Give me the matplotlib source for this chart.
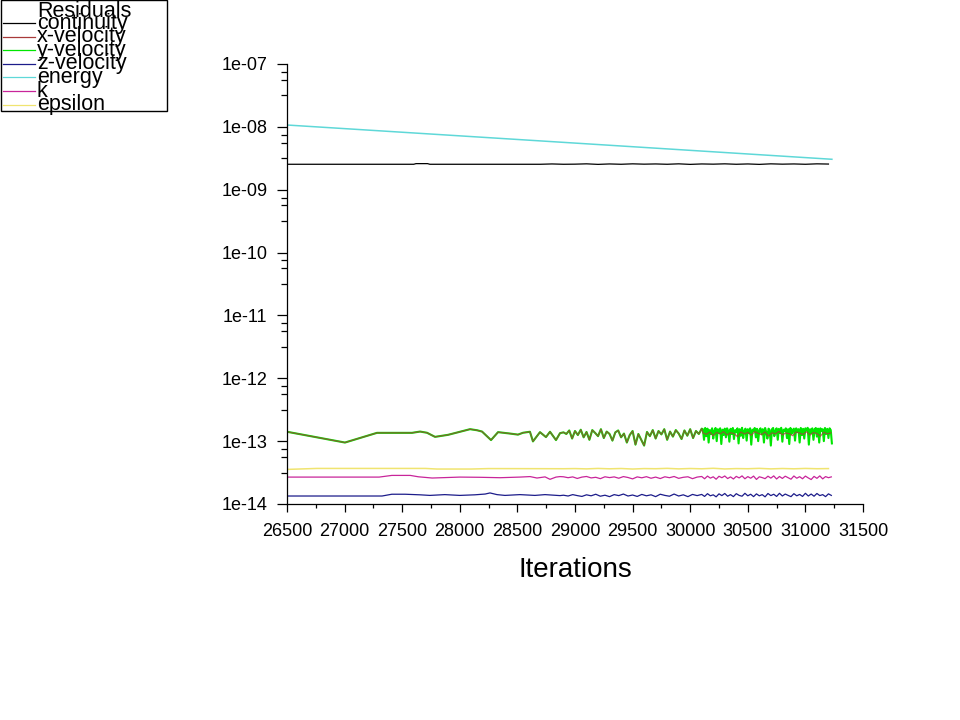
import numpy as np
import matplotlib
matplotlib.use('Agg')
import matplotlib.pyplot as plt
from matplotlib.lines import Line2D
from matplotlib.patches import Rectangle
from matplotlib.ticker import FixedLocator, FuncFormatter, MultipleLocator

plt.rcParams['font.family'] = ['Liberation Sans', 'DejaVu Sans']

# ---- data ----
# x-/y-velocity, smooth early part (units of 1e-13)
vel_A_iter = [26500, 27003, 27281, 27585, 27655, 27715, 27785, 27898, 28089, 28150,
              28193, 28271, 28332, 28436, 28505, 28549, 28609, 28635, 28696, 28748,
              28783, 28835, 28870, 28900]
vel_A = [1.41, 0.95, 1.355, 1.355, 1.42, 1.36, 1.17, 1.26, 1.55, 1.49,
         1.42, 1.04, 1.39, 1.32, 1.27, 1.36, 1.41, 0.99, 1.39, 1.16,
         1.41, 1.04, 1.34, 1.38]
# oscillating part, every 25 iterations from 28925
vel_B = [1.30, 1.48, 1.10, 1.45, 1.25, 1.52, 1.15, 1.40, 1.05, 1.50,
         1.35, 1.20, 1.55, 1.12, 1.42, 1.30, 1.02, 1.38, 1.48, 1.15,
         1.32, 0.95, 1.25, 1.45, 0.88, 1.30, 1.05, 0.85, 1.40, 1.20,
         1.50, 1.10, 1.45, 1.28, 1.55, 1.05, 1.42, 1.18, 1.50, 1.32,
         1.08, 1.48, 1.22, 1.55, 1.12, 1.45, 1.30, 1.58]
# y-velocity noisy part, every 10 iterations from 30110
yvel_C = [1.55, 1.05, 1.62, 1.20, 1.58, 0.95, 1.50, 1.30, 1.60, 1.10,
          1.48, 1.62, 1.00, 1.55, 1.35, 1.60, 0.90, 1.52, 1.25, 1.58,
          1.15, 1.60, 1.45, 0.98, 1.57, 1.30, 1.62, 1.08, 1.50, 1.40,
          1.60, 0.92, 1.55, 1.22, 1.63, 1.12, 1.48, 1.58, 1.02, 1.55,
          1.35, 1.60, 0.88, 1.52, 1.45, 1.62, 1.15, 1.57, 1.00, 1.50,
          1.60, 1.28, 1.55, 0.95, 1.62, 1.40, 1.10, 1.58, 1.50, 0.85,
          1.55, 1.62, 1.20, 1.48, 1.60, 1.05, 1.57, 1.35, 1.63, 0.98,
          1.52, 1.45, 1.60, 1.12, 1.55, 0.90, 1.62, 1.30, 1.50, 1.58,
          1.02, 1.60, 1.40, 1.55, 0.95, 1.62, 1.25, 1.57, 1.10, 1.60,
          1.48, 1.63, 0.88, 1.55, 1.35, 1.60, 1.05, 1.52, 1.62, 1.18,
          1.58, 0.95, 1.60, 1.45, 1.55, 1.00, 1.62, 1.30, 1.57, 1.12,
          1.60, 1.50, 0.92]
# x-velocity noisy part, every 30 iterations from 30110
xvel_C = [1.35, 1.28, 1.40, 1.22, 1.38, 1.30, 1.42, 1.25, 1.36, 1.32,
          1.18, 1.40, 1.30, 1.38, 1.24, 1.42, 1.33, 1.27, 1.40, 1.20,
          1.36, 1.30, 1.43, 1.26, 1.35, 1.31, 1.22, 1.40, 1.34, 1.28,
          1.41, 1.25, 1.37, 1.32, 1.20, 1.39, 1.30, 1.36]

# z-velocity (units of 1e-14)
z_A_iter = [26500, 27325, 27410, 27525, 27655, 27740, 27870, 28000, 28130, 28220,
            28262, 28323, 28392, 28522, 28652, 28740, 28870]
z_A = [1.34, 1.34, 1.43, 1.43, 1.40, 1.37, 1.41, 1.37, 1.40, 1.44,
       1.50, 1.41, 1.37, 1.41, 1.37, 1.41, 1.36]
z_B = [1.38, 1.34, 1.41, 1.36, 1.32, 1.40, 1.35, 1.43, 1.33, 1.38,
       1.31, 1.41, 1.36, 1.44, 1.34, 1.39, 1.32, 1.42, 1.35, 1.40,
       1.31, 1.43, 1.37, 1.33, 1.44, 1.34, 1.40, 1.31, 1.42, 1.36]
z_C = [1.42, 1.32, 1.46, 1.35, 1.40, 1.30, 1.45, 1.36, 1.47, 1.33,
       1.41, 1.31, 1.46, 1.37, 1.33, 1.48, 1.35, 1.43, 1.31, 1.45,
       1.35, 1.41, 1.30, 1.47, 1.36, 1.43, 1.32, 1.48, 1.34, 1.44,
       1.37, 1.31, 1.46, 1.35, 1.42, 1.32, 1.48, 1.34, 1.44, 1.33,
       1.47, 1.36, 1.41, 1.31, 1.45, 1.37]

# k (units of 1e-14)
k_A_iter = [26500, 27300, 27410, 27570, 27640, 27760, 27870, 28000, 28175, 28350,
            28520, 28610, 28670, 28740, 28783, 28835, 28870]
k_A = [2.68, 2.68, 2.85, 2.85, 2.71, 2.59, 2.63, 2.68, 2.66, 2.62,
       2.68, 2.73, 2.59, 2.70, 2.47, 2.68, 2.73]
k_B = [2.71, 2.62, 2.70, 2.55, 2.68, 2.74, 2.60, 2.66, 2.53, 2.71,
       2.63, 2.70, 2.57, 2.73, 2.64, 2.51, 2.70, 2.61, 2.72, 2.57,
       2.68, 2.54, 2.71, 2.62, 2.74, 2.56, 2.66, 2.71, 2.53, 2.68]
k_C = [2.74, 2.52, 2.78, 2.58, 2.71, 2.48, 2.76, 2.62, 2.79, 2.54,
       2.70, 2.50, 2.75, 2.60, 2.80, 2.52, 2.73, 2.57, 2.78, 2.46,
       2.71, 2.63, 2.53, 2.77, 2.58, 2.80, 2.50, 2.74, 2.55, 2.77,
       2.62, 2.48, 2.79, 2.57, 2.72, 2.52, 2.78, 2.60, 2.45, 2.75,
       2.56, 2.80, 2.51, 2.73, 2.62, 2.70]

# epsilon (units of 1e-14)
eps_A_iter = [26500, 26760, 27700, 27800, 28100, 28250, 28600, 28900]
eps_A = [3.55, 3.68, 3.68, 3.60, 3.60, 3.66, 3.65, 3.64]
eps_B = [3.66, 3.62, 3.68, 3.63, 3.67, 3.60, 3.66, 3.64, 3.69, 3.62,
         3.67, 3.63, 3.70, 3.61, 3.66, 3.64, 3.69, 3.62, 3.67, 3.63,
         3.68, 3.64, 3.66]

# continuity (units of 1e-9)
cont_A_iter = [26500, 27600, 27620, 27720, 27740, 28600]
cont_A = [2.54, 2.54, 2.60, 2.60, 2.54, 2.54]
cont_B = [2.54, 2.57, 2.54, 2.55, 2.58, 2.53, 2.57, 2.54, 2.58, 2.55,
          2.57, 2.54, 2.58, 2.53, 2.57, 2.55, 2.58, 2.54, 2.57, 2.53,
          2.58, 2.55, 2.57, 2.54, 2.58, 2.56]

# energy (units of 1e-9)
energy_iter = [26500, 28865, 31230]
energy = [10.7, 5.72, 3.05]


def grid(start, step, vals):
    return start + step * np.arange(len(vals))


it_y = np.concatenate([vel_A_iter, grid(28925, 25, vel_B), grid(30110, 10, yvel_C)])
val_y = np.concatenate([vel_A, vel_B, yvel_C]) * 1e-13
it_x = np.concatenate([vel_A_iter, grid(28925, 25, vel_B), grid(30110, 30, xvel_C)])
val_x = np.concatenate([vel_A, vel_B, xvel_C]) * 1e-13
it_z = np.concatenate([z_A_iter, grid(28900, 40, z_B), grid(30100, 25, z_C)])
val_z = np.concatenate([z_A, z_B, z_C]) * 1e-14
it_k = np.concatenate([k_A_iter, grid(28900, 40, k_B), grid(30100, 25, k_C)])
val_k = np.concatenate([k_A, k_B, k_C]) * 1e-14
it_e = np.concatenate([eps_A_iter, grid(29000, 100, eps_B)])
val_e = np.concatenate([eps_A, eps_B]) * 1e-14
it_c = np.concatenate([cont_A_iter, grid(28700, 100, cont_B)])
val_c = np.concatenate([cont_A, cont_B]) * 1e-9
it_en = np.array(energy_iter)
val_en = np.array(energy) * 1e-9

colors = {
    'continuity': '#000000',
    'x-velocity': '#a83a3a',
    'y-velocity': '#00e600',
    'z-velocity': '#1c1c8a',
    'energy': '#5fd8d8',
    'k': '#c8259a',
    'epsilon': '#f0e470',
}

W, H = 960, 720
fig = plt.figure(figsize=(W / 100, H / 100), dpi=100)
fig.patch.set_facecolor('white')
ax = fig.add_axes([287 / W, 216 / H, 576 / W, 440 / H])

lw = 0.9
ax.plot(it_c, val_c, color=colors['continuity'], lw=lw)
ax.plot(it_y, val_y, color=colors['y-velocity'], lw=1.5)
ax.plot(it_x, val_x, color=colors['x-velocity'], lw=lw, alpha=0.75)
ax.plot(it_z, val_z, color=colors['z-velocity'], lw=lw)
ax.plot(it_en, val_en, color=colors['energy'], lw=1.1)
ax.plot(it_k, val_k, color=colors['k'], lw=lw)
ax.plot(it_e, val_e, color=colors['epsilon'], lw=1.1)

ax.set_yscale('log')
ax.set_xlim(26500, 31500)
ax.set_ylim(1e-14, 1e-7)
for side in ('top', 'right'):
    ax.spines[side].set_visible(False)
for side in ('left', 'bottom'):
    ax.spines[side].set_linewidth(0.9)

exps = list(range(-14, -6))
ax.yaxis.set_major_locator(FixedLocator([10.0 ** e for e in exps]))
ax.yaxis.set_major_formatter(FuncFormatter(lambda v, p: '1e-%02d' % round(-np.log10(v))))
minor = [10.0 ** (e + f) for e in exps[:-1] for f in (0.5, 0.75, 0.875)]
ax.yaxis.set_minor_locator(FixedLocator(minor))
ax.yaxis.set_minor_formatter(FuncFormatter(lambda v, p: ''))
ax.xaxis.set_major_locator(MultipleLocator(500))
ax.xaxis.set_minor_locator(MultipleLocator(250))

ax.tick_params(axis='y', which='major', length=7, width=0.9, pad=7, labelsize=13)
ax.tick_params(axis='y', which='minor', length=4, width=0.9)
ax.tick_params(axis='x', which='major', length=6, width=0.9, pad=8, labelsize=13)
ax.tick_params(axis='x', which='minor', length=3, width=0.9)

ax.set_xlabel('Iterations', fontsize=20)
ax.xaxis.label.set_va('baseline')
ax.xaxis.set_label_coords(0.5, (504 - 577) / 440)

# legend box in the top-left corner, drawn by hand (entries overlap like the original)
fig.add_artist(Rectangle((0.5 / W, 1 - 110.5 / H), 166 / W, 110 / H,
                         transform=fig.transFigure, fill=False, ec='black', lw=1))
fig.text(37 / W, 1 - 16.7 / H, 'Residuals', fontsize=15.5, va='baseline')
names = ['continuity', 'x-velocity', 'y-velocity', 'z-velocity', 'energy', 'k', 'epsilon']
for i, name in enumerate(names):
    ly = 23 + 13.6 * i
    fig.add_artist(Line2D([3 / W, 35 / W], [1 - ly / H, 1 - ly / H],
                          transform=fig.transFigure, color=colors[name], lw=0.9))
    fig.text(37 / W, 1 - (ly + 5.7) / H, name, fontsize=15.5, va='baseline')

fig.savefig('out.png', dpi=100)
